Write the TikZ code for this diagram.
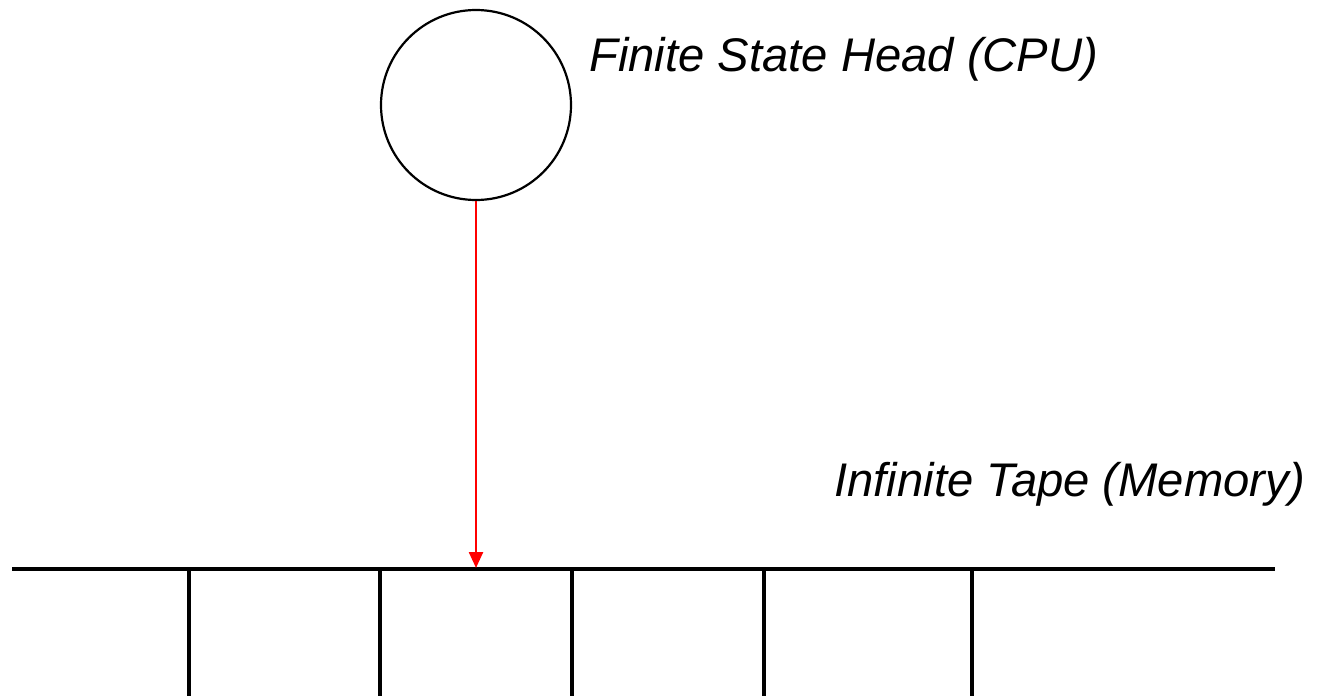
\documentclass[tikz,border=0pt]{standalone}
\usepackage{fontspec}
\setmainfont{Liberation Sans}
\usetikzlibrary{positioning,arrows.meta}

\begin{document}
\begin{tikzpicture}[
  x=0.5pt,y=-0.5pt,
  font=\fontsize{23.6}{28}\selectfont\itshape,
  head/.style={draw,circle,line width=1.1pt,minimum size=95pt,inner sep=0pt},
  lbl/.style={anchor=base west,inner sep=0pt},
  tape/.style={line width=1.7pt},
  arr/.style={-{Triangle[length=8pt,width=7pt]},red,line width=1.2pt},
]
  \useasboundingbox (0,0) rectangle (1328,696);

  % head and its label
  \node[head] (cpu) at (476,105) {};
  \node[lbl] (cpulbl) at (589,71) {Finite State Head (CPU)};

  % tape
  \node[lbl] (tapelbl) at (834,496) {Infinite Tape (Memory)};
  \draw[tape] (12,569) -- (1275,569);
  \foreach \x in {189,380,572,764,972}
    \draw[tape] (\x,569) -- (\x,700);

  \coordinate (cell) at (476,568);
  \draw[arr] (cpu.south) -- (cell);
\end{tikzpicture}
\end{document}
